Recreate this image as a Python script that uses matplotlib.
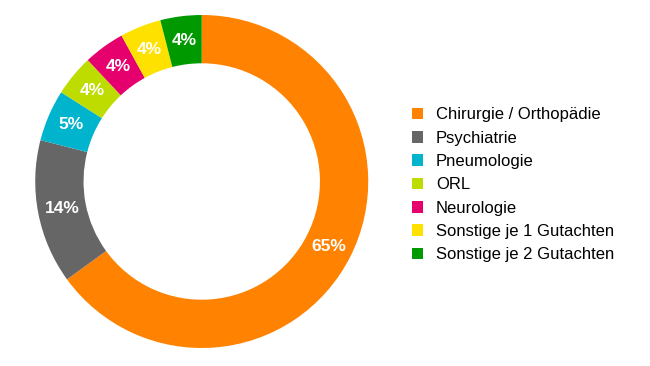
import matplotlib
matplotlib.use("Agg")
import matplotlib.pyplot as plt

# Data
categories = ["Chirurgie / Orthopädie", "Psychiatrie", "Pneumologie", "ORL",
              "Neurologie", "Sonstige je 1 Gutachten", "Sonstige je 2 Gutachten"]
shares = [65, 14, 5, 4, 4, 4, 4]
colors = ["#ff8200", "#666666", "#00b4cd", "#bedc00", "#e6006e", "#ffe100", "#009a00"]

plt.rcParams["font.family"] = ["Liberation Sans", "DejaVu Sans"]

fig = plt.figure(figsize=(6.5, 3.66), dpi=100)
# donut axes: centre ~(202, 182) px, radius ~166 px
ax = fig.add_axes([0.0542, 0.0492, 0.5123, 0.9098])

wedges, texts, autotexts = ax.pie(
    shares, colors=colors, startangle=90, counterclock=False,
    radius=1.0, wedgeprops=dict(width=0.29, edgecolor="none"),
    autopct="%d%%", pctdistance=0.855,
    textprops=dict(color="white", fontsize=12.5, fontweight="bold"))
ax.set_xlim(-1, 1)
ax.set_ylim(-1, 1)
ax.set_aspect("equal")
ax.axis("off")

fig.legend(wedges, categories, loc="upper left", bbox_to_anchor=(0.623, 0.725),
           frameon=False, fontsize=12, handlelength=0.7, handleheight=0.7,
           handletextpad=0.75, labelspacing=0.5, borderaxespad=0)

fig.savefig("out.png", dpi=100)
